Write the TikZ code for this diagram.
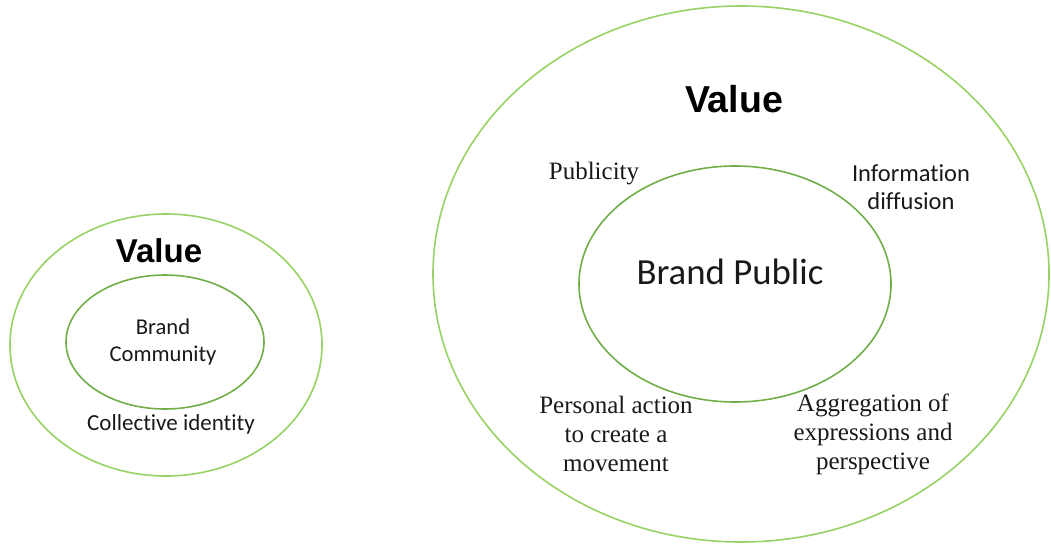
\documentclass[tikz,border=0pt]{standalone}
\usepackage{fontspec}
\setmainfont{Liberation Serif}
\newfontfamily\calibrifont[Ligatures=NoCommon]{Carlito}
\newfontfamily\arialfont{Liberation Sans}
\usetikzlibrary{shapes.geometric}
\definecolor{ringlight}{RGB}{150, 210, 100}
\definecolor{ringdark}{RGB}{112, 175, 72}
\definecolor{inktext}{RGB}{25, 25, 25}

\begin{document}
\begin{tikzpicture}[
  x=1pt, y=-1pt,
  ring/.style={ellipse, draw=ringlight, line width=1.6pt, inner sep=0pt},
  core/.style={ellipse, draw=ringdark, line width=1.6pt, inner sep=0pt},
  valuelabel/.style={inner sep=0pt, text=black, font=\arialfont\bfseries},
  sanslabel/.style={inner sep=0pt, align=center, text=inktext},
  seriflabel/.style={inner sep=0pt, align=center, text=inktext, font=\fontsize{25}{29}\selectfont}
]
  \useasboundingbox (0,0) rectangle (1051,544);

  % Brand community rings
  \node[ring, minimum width=312pt, minimum height=262pt] (commOuter) at (166,345) {};
  \node[core, minimum width=198pt, minimum height=134pt] (commInner) at (165,342) {};
  \node[valuelabel, font=\arialfont\bfseries\fontsize{33}{38}\selectfont] (commValue) at (159,251) {Value};
  \node[sanslabel, font=\calibrifont\fontsize{22.6}{27}\selectfont] (commName) at (163,342) {Brand\\Community};
  \node[sanslabel, font=\calibrifont\fontsize{23}{27}\selectfont] (commIdentity) at (171,424) {Collective identity};

  % Brand public rings
  \node[ring, minimum width=616pt, minimum height=536pt] (pubOuter) at (741,274) {};
  \node[core, minimum width=312pt, minimum height=236pt] (pubInner) at (735,284) {};
  \node[valuelabel, font=\arialfont\bfseries\fontsize{37.5}{43}\selectfont] (pubValue) at (734,99) {Value};
  \node[sanslabel, font=\calibrifont\fontsize{36.8}{42}\selectfont] (pubName) at (730,272) {Brand Public};

  % Outcomes around the brand public
  \node[seriflabel] (publicity) at (594,174) {Publicity};
  \node[sanslabel, font=\calibrifont\fontsize{24.5}{28}\selectfont] (diffusion) at (911,187) {Information\\diffusion};
  \node[seriflabel] (action) at (616,434) {Personal action\\to create a\\movement};
  \node[seriflabel] (aggregation) at (873,434) {Aggregation of\\expressions and\\perspective};
\end{tikzpicture}
\end{document}
